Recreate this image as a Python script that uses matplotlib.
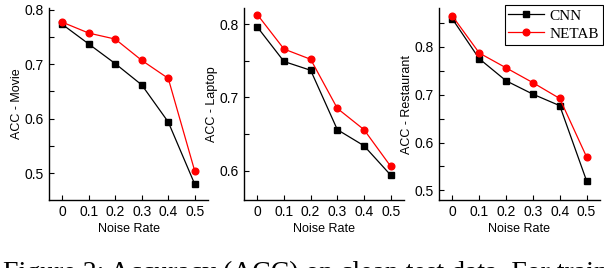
import numpy as np
import matplotlib
matplotlib.use("Agg")
import matplotlib.pyplot as plt
from matplotlib.ticker import MultipleLocator

# ------------------------------------------------------------------
# DATA
# ------------------------------------------------------------------
noise = [0, 0.1, 0.2, 0.3, 0.4, 0.5]
noise_labels = ['0', '0.1', '0.2', '0.3', '0.4', '0.5']

movie_cnn   = [0.773, 0.737, 0.701, 0.662, 0.594, 0.480]
movie_netab = [0.777, 0.757, 0.746, 0.707, 0.674, 0.504]

laptop_cnn   = [0.796, 0.749, 0.737, 0.656, 0.634, 0.594]
laptop_netab = [0.813, 0.766, 0.752, 0.685, 0.656, 0.606]

rest_cnn   = [0.858, 0.775, 0.729, 0.701, 0.677, 0.520]
rest_netab = [0.864, 0.787, 0.756, 0.725, 0.692, 0.570]

panels = [
    ('ACC - Movie',      movie_cnn,  movie_netab,  (0.451, 0.803), [0.5, 0.6, 0.7, 0.8]),
    ('ACC - Laptop',     laptop_cnn, laptop_netab, (0.560, 0.822), [0.6, 0.7, 0.8]),
    ('ACC - Restaurant', rest_cnn,   rest_netab,   (0.480, 0.881), [0.5, 0.6, 0.7, 0.8]),
]

caption = "Figure 2: Accuracy (ACC) on clean test data. For train"

# ------------------------------------------------------------------
# FIGURE
# ------------------------------------------------------------------
plt.rcParams['font.family'] = ['Liberation Sans', 'DejaVu Sans']
W, H = 604, 268
fig = plt.figure(figsize=(W / 100, H / 100), dpi=100)

lefts = [49, 244, 439]
widths = [159, 160, 161]
top_px, bot_px = 8, 200

axes = []
for (ylab, cnn, netab, ylim, yt), l, w in zip(panels, lefts, widths):
    ax = fig.add_axes([l / W, 1 - bot_px / H, w / W, (bot_px - top_px) / H])
    ax.plot(noise, cnn, color='black', lw=0.9, marker='s', ms=4, label='CNN')
    ax.plot(noise, netab, color='#ff0000', lw=0.9, marker='o', ms=4.8, label='NETAB')
    ax.set_xlim(-0.05, 0.55)
    ax.set_ylim(*ylim)
    ax.set_xticks(noise)
    ax.set_xticklabels(noise_labels)
    ax.set_yticks(yt)
    ax.set_yticklabels([f'{v:.1f}' for v in yt])
    ax.yaxis.set_minor_locator(MultipleLocator(0.05))
    ax.spines['top'].set_visible(False)
    ax.spines['right'].set_visible(False)
    for s in ('left', 'bottom'):
        ax.spines[s].set_linewidth(1.0)
    ax.tick_params(direction='in', labelsize=10, length=3.5, width=0.8, pad=3.5)
    ax.tick_params(axis='y', which='minor', direction='in', length=3.5, width=0.8)
    ax.set_xlabel('Noise Rate', fontsize=9, labelpad=3)
    ax.set_ylabel(ylab, fontsize=9, labelpad=1)
    axes.append(ax)

leg = axes[2].legend(loc='upper right', bbox_to_anchor=(603 / W, 1 - 5 / H),
                     bbox_transform=fig.transFigure, borderaxespad=0,
                     prop={'family': 'Liberation Serif', 'size': 11},
                     fancybox=False, edgecolor='black', framealpha=1,
                     handlelength=2.3, handletextpad=0.4, borderpad=0.25,
                     labelspacing=0.3)
leg.get_frame().set_linewidth(0.8)

# caption of the paper, cut by the bottom edge as in the source
fig.text(3 / W, 1 - 280 / H, caption, family='Liberation Serif', fontsize=20,
         va='baseline', ha='left')

fig.savefig('out.png', dpi=100)
